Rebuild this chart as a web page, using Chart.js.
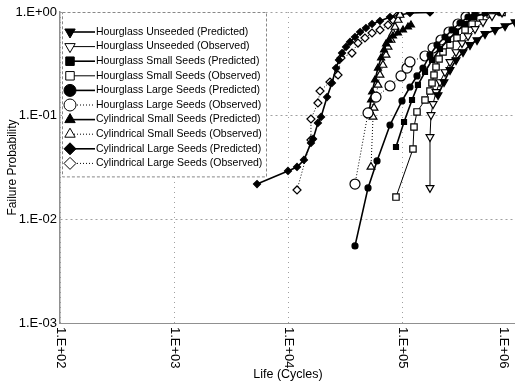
<!DOCTYPE html>
<html>
<head>
<meta charset="utf-8">
<script src="https://cdn.jsdelivr.net/npm/chart.js@4/dist/chart.umd.min.js"></script>
<style>
  html, body { margin: 0; padding: 0; background: #fff; overflow: hidden; }
  canvas { display: block; }
</style>
</head>
<body>
<canvas id="chart" width="530" height="381"></canvas>
<script>
// tick values and their printed labels
const lifeTicks = [1e2, 1e3, 1e4, 1e5, 1e6];
const lifeTickLabels = ["1.E+02", "1.E+03", "1.E+04", "1.E+05", "1.E+06"];
const probTicks = [0.001, 0.01, 0.1, 1];
const probTickLabels = ["1.E-03", "1.E-02", "1.E-01", "1.E+00"];

// Hourglass, unseeded
const hupLife = [207000, 233500, 263700, 297700, 342800, 394700, 454900, 534600, 654500, 801300, 980000];
const hupProb = [0.158, 0.211, 0.276, 0.344, 0.411, 0.481, 0.537, 0.614, 0.671, 0.733, 0.801];
const huoLife = [176000, 176000, 179600, 187100, 198800, 215400, 238300, 263700, 297700, 335800, 379300, 436600, 513600, 615800, 754000];
const huoProb = [0.0201, 0.0623, 0.1016, 0.1297, 0.1693, 0.2113, 0.2638, 0.3296, 0.4113, 0.502, 0.587, 0.686, 0.801, 0.915, 0.99];

// Hourglass, small seeds
const hspLife = [88560, 104200, 122400, 138000, 159200, 183300, 215400, 253300, 297700, 357300, 428300, 534600, 724400];
const hspProb = [0.0499, 0.0869, 0.1417, 0.198, 0.2638, 0.344, 0.4396, 0.537, 0.641, 0.766, 0.895, 0.978, 0.99];
const hsoLife = [88560, 124800, 127400, 135400, 159200, 176000, 183300, 190900, 198800, 211300, 229000, 263700, 303700, 357300, 411200, 483100, 591500, 754000];
const hsoProb = [0.0164, 0.0477, 0.0778, 0.1086, 0.1417, 0.173, 0.2066, 0.247, 0.295, 0.352, 0.4113, 0.481, 0.5615, 0.671, 0.766, 0.875, 0.957, 0.99];

// Hourglass, large seeds
const hlpLife = [38700, 50350, 60390, 78500, 100000, 117500, 135400, 152800, 176000, 202800, 238300, 274700, 322800, 379300, 436600];
const hlpProb = [0.00554, 0.0201, 0.0366, 0.0813, 0.1386, 0.189, 0.2415, 0.288, 0.385, 0.481, 0.574, 0.671, 0.783, 0.895, 0.978];
const hloLife = [38700, 50350, 59160, 78500, 98000, 110600, 117500, 159200, 187100, 219800, 258300, 309900, 364100, 428300];
const hloProb = [0.0219, 0.1062, 0.151, 0.1934, 0.2415, 0.288, 0.3296, 0.3764, 0.4497, 0.537, 0.641, 0.766, 0.895, 0.99];

// Cylindrical, small seeds
const cspLife = [51400, 53460, 54600, 57940, 61530, 65460, 69540, 72430, 76920, 83400, 92250, 102100, 112900, 119900];
const cspProb = [0.1086, 0.1417, 0.1693, 0.2209, 0.288, 0.36, 0.43, 0.491, 0.537, 0.587, 0.627, 0.671, 0.717, 0.749];
const csoLife = [53460, 55700, 56800, 59160, 61530, 64100, 68080, 72430, 75400, 80100, 83400, 86860, 92250, 96000];
const csoProb = [0.032, 0.0972, 0.1187, 0.151, 0.198, 0.247, 0.308, 0.385, 0.46, 0.537, 0.627, 0.717, 0.837, 0.936];

// Cylindrical, large seeds
const clpLife = [5350, 10000, 12000, 13800, 15900, 16600, 18300, 19500, 22000, 24300, 26400, 28000, 29800, 32300, 35000, 38700, 42900, 48300, 54600, 64100, 78500, 96000, 117500, 176000];
const clpProb = [0.0219, 0.0293, 0.032, 0.0374, 0.0546, 0.0596, 0.0851, 0.0972, 0.151, 0.207, 0.288, 0.344, 0.402, 0.46, 0.514, 0.574, 0.641, 0.701, 0.766, 0.819, 0.895, 0.936, 0.978, 0.99];
const cloLife = [12000, 15900, 15900, 18300, 19100, 23350, 27470, 29170, 36400, 41110, 47330, 54600, 64100, 75400, 83400, 90400];
const cloProb = [0.0192, 0.0583, 0.0929, 0.1326, 0.173, 0.2113, 0.247, 0.36, 0.402, 0.502, 0.5615, 0.627, 0.671, 0.749, 0.837, 0.915];

const VIEW_W = 515;
const FONT = '"Liberation Sans", Arial, Helvetica, sans-serif';

function pairs(xs, ys) {
    return xs.map((x, i) => ({ x: x, y: ys[i] }));
}

function series(label, xs, ys, style, filled, radius, rotation, lineWidth, dash) {
    return {
        label: label,
        data: pairs(xs, ys),
        showLine: true,
        borderColor: "#000",
        borderWidth: lineWidth,
        borderDash: dash,
        pointStyle: style,
        pointRotation: rotation,
        pointRadius: radius,
        pointBorderWidth: 1.2,
        pointBorderColor: "#000",
        pointBackgroundColor: filled ? "#000" : "#fff",
        fill: false
    };
}

const DOT = [1, 2];

const datasets = [
    series("Hourglass Unseeded (Predicted)", hupLife, hupProb, "triangle", true, 4.5, 180, 1.6, []),
    series("Hourglass Unseeded (Observed)", huoLife, huoProb, "triangle", false, 4.5, 180, 1, []),
    series("Hourglass Small Seeds (Predicted)", hspLife, hspProb, "rect", true, 3.5, 0, 1.6, []),
    series("Hourglass Small Seeds (Observed)", hsoLife, hsoProb, "rect", false, 4.5, 0, 1, []),
    series("Hourglass Large Seeds (Predicted)", hlpLife, hlpProb, "circle", true, 3, 0, 1.6, []),
    series("Hourglass Large Seeds (Observed)", hloLife, hloProb, "circle", false, 5, 0, 1, DOT),
    series("Cylindrical Small Seeds (Predicted)", cspLife, cspProb, "triangle", true, 4, 0, 1.6, []),
    series("Cylindrical Small Seeds (Observed)", csoLife, csoProb, "triangle", false, 4.5, 0, 1, DOT),
    series("Cylindrical Large Seeds (Predicted)", clpLife, clpProb, "rectRot", true, 3.5, 0, 1.6, []),
    series("Cylindrical Large Seeds (Observed)", cloLife, cloProb, "rectRot", false, 4, 0, 1, DOT)
];

// boxed legend sitting inside the top-left corner of the plot
const legendBox = {
    id: "legendBox",
    afterDatasetsDraw(chart) {
        const ctx = chart.ctx;
        const area = chart.chartArea;
        const left = area.left + 2;
        const top = area.top;
        const rowH = 14.6;
        const width = 204;
        const height = 20 + rowH * 9 + 13;
        ctx.save();
        ctx.fillStyle = "#fff";
        ctx.fillRect(left, top, width, height);
        ctx.setLineDash([3, 2]);
        ctx.strokeStyle = "#888";
        ctx.lineWidth = 1;
        ctx.strokeRect(left + 0.5, top + 0.5, width, height);
        chart.data.datasets.forEach((ds, i) => {
            const y = top + 20 + i * rowH;
            ctx.setLineDash(ds.borderDash);
            ctx.lineWidth = ds.borderWidth;
            ctx.strokeStyle = "#000";
            ctx.beginPath();
            ctx.moveTo(left + 6, y);
            ctx.lineTo(left + 33, y);
            ctx.stroke();
            ctx.setLineDash([]);
            ctx.lineWidth = 1;
            ctx.fillStyle = ds.pointBackgroundColor;
            Chart.helpers.drawPoint(ctx, {
                pointStyle: ds.pointStyle,
                rotation: ds.pointRotation,
                radius: 6,
                borderWidth: 1
            }, left + 8, y);
            ctx.fillStyle = "#000";
            ctx.font = "10.5px " + FONT;
            ctx.textAlign = "left";
            ctx.textBaseline = "middle";
            ctx.fillText(ds.label, left + 34, y);
        });
        ctx.restore();
    }
};

// x tick labels turned a quarter clockwise, last one kept on the page
const xLabels = {
    id: "xLabels",
    afterDraw(chart) {
        const sx = chart.scales.x;
        const ctx = chart.ctx;
        ctx.save();
        ctx.font = "13px " + FONT;
        ctx.fillStyle = "#000";
        ctx.textAlign = "left";
        ctx.textBaseline = "middle";
        lifeTicks.forEach((v, i) => {
            const x = Math.min(sx.getPixelForValue(v), VIEW_W - 12);
            ctx.save();
            ctx.translate(x + 1, sx.top + 4);
            ctx.rotate(Math.PI / 2);
            ctx.fillText(lifeTickLabels[i], 0, 0);
            ctx.restore();
        });
        ctx.restore();
    }
};

new Chart(document.getElementById("chart").getContext("2d"), {
    type: "scatter",
    data: { datasets: datasets },
    options: {
        responsive: false,
        animation: false,
        layout: { padding: { top: 12, right: 14, left: 0, bottom: 0 } },
        plugins: {
            legend: { display: false },
            tooltip: { enabled: false }
        },
        scales: {
            x: {
                type: "logarithmic",
                min: 1e2,
                max: 1e6,
                afterBuildTicks: axis => { axis.ticks = lifeTicks.map(v => ({ value: v })); },
                afterFit: axis => { axis.height = 58; },
                ticks: { display: false },
                grid: { color: "#a0a0a0", lineWidth: 1, drawTicks: false },
                border: { display: true, color: "#909090", dash: [1, 4] },
                title: {
                    display: true,
                    text: "Life (Cycles)",
                    color: "#000",
                    font: { family: FONT, size: 12.5, lineHeight: 1 },
                    padding: { top: 0, bottom: 0 }
                }
            },
            y: {
                type: "logarithmic",
                min: 0.001,
                max: 1,
                afterBuildTicks: axis => { axis.ticks = probTicks.map(v => ({ value: v })); },
                afterFit: axis => { axis.width = 60; },
                ticks: {
                    padding: 3,
                    color: "#000",
                    font: { family: FONT, size: 13 },
                    callback: v => probTickLabels[probTicks.indexOf(v)]
                },
                grid: { color: "#a0a0a0", lineWidth: 1, drawTicks: false },
                border: { display: true, color: "#909090", width: 1.5, dash: [2, 3] },
                title: {
                    display: true,
                    text: "Failure Probability",
                    color: "#000",
                    font: { family: FONT, size: 12 },
                    padding: { top: 5, bottom: 0 }
                }
            }
        }
    },
    plugins: [legendBox, xLabels]
});
</script>
</body>
</html>
